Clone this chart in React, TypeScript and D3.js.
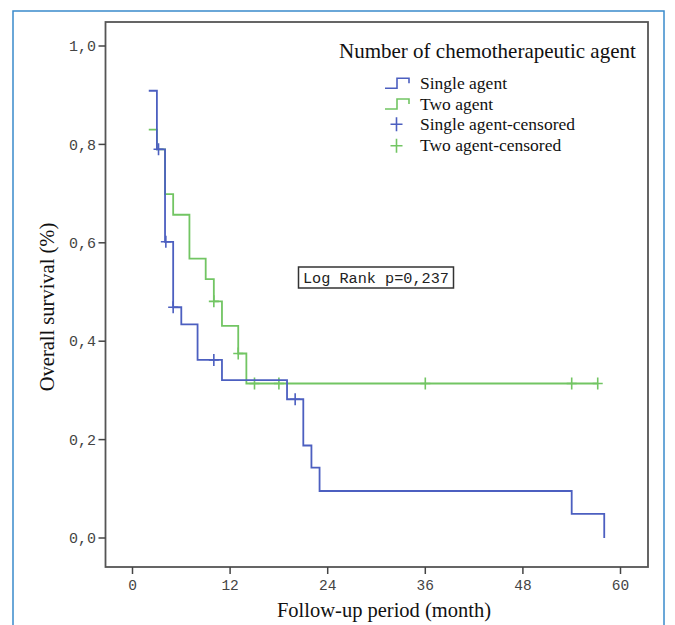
import React, { useEffect, useRef } from "react";
import * as d3 from "d3";

// Kaplan-Meier steps (month, survival)
const singleTimes = [2, 3, 4, 5, 6, 8, 11, 19, 21, 22, 23, 54, 58];
const singleSurv = [0.909, 0.79, 0.602, 0.469, 0.434, 0.362, 0.321, 0.282, 0.188, 0.143, 0.0955, 0.049, 0.0];
const singleCensT = [3.2, 4.1, 5, 10, 20];
const singleCensS = [0.79, 0.602, 0.469, 0.362, 0.282];

const twoTimes = [2, 3, 4, 5, 7, 9, 10, 11, 13, 14, 57.2];
const twoSurv = [0.83, 0.79, 0.699, 0.657, 0.568, 0.526, 0.481, 0.431, 0.375, 0.314, 0.314];
const twoCensT = [10, 13, 15, 18, 36, 54, 57.2];
const twoCensS = [0.481, 0.375, 0.314, 0.314, 0.314, 0.314, 0.314];

const xTicks = [0, 12, 24, 36, 48, 60];
const yTicks = [0, 0.2, 0.4, 0.6, 0.8, 1.0];

const legendTitle = "Number of chemotherapeutic agent";
const legendItems = ["Single agent", "Two agent", "Single agent-censored", "Two agent-censored"];

const BLUE = "#4c5fc0";
const GREEN = "#72c563";
const serif = "'Liberation Serif', 'Times New Roman', serif";
const mono = "'Liberation Mono', 'Courier New', monospace";

export default function App() {
  const ref = useRef<SVGSVGElement>(null);

  useEffect(() => {
    const svg = d3.select(ref.current);
    svg.selectAll("*").remove();

    const frame = { left: 105.5, top: 22, right: 648, bottom: 567 };
    const x = d3.scaleLinear().domain([0, 60]).range([132.5, 620.5]);
    const y = d3.scaleLinear().domain([0, 1]).range([538, 46]);

    // outer blue border
    svg.append("rect")
      .attr("x", 13).attr("y", 11).attr("width", 651).attr("height", 700)
      .attr("fill", "none").attr("stroke", "#3a8bcb").attr("stroke-width", 1.5);

    // plot frame
    svg.append("rect")
      .attr("x", frame.left).attr("y", frame.top)
      .attr("width", frame.right - frame.left).attr("height", frame.bottom - frame.top)
      .attr("fill", "white").attr("stroke", "#555").attr("stroke-width", 1.8);

    // y ticks
    const yg = svg.append("g");
    yg.selectAll("line").data(yTicks).join("line")
      .attr("x1", frame.left - 7).attr("x2", frame.left)
      .attr("y1", (d) => y(d)).attr("y2", (d) => y(d))
      .attr("stroke", "#444").attr("stroke-width", 1.5);
    yg.selectAll("text").data(yTicks).join("text")
      .attr("x", 96).attr("y", (d) => y(d)).attr("dy", "0.35em")
      .attr("text-anchor", "end")
      .style("font-family", mono).style("font-size", "15px").attr("fill", "#444")
      .text((d) => d3.format(".1f")(d).replace(".", ","));

    // x ticks
    const xg = svg.append("g");
    xg.selectAll("line").data(xTicks).join("line")
      .attr("x1", (d) => x(d)).attr("x2", (d) => x(d))
      .attr("y1", frame.bottom).attr("y2", frame.bottom + 7)
      .attr("stroke", "#444").attr("stroke-width", 1.5);
    xg.selectAll("text").data(xTicks).join("text")
      .attr("x", (d) => x(d)).attr("y", 590)
      .attr("text-anchor", "middle")
      .style("font-family", mono).style("font-size", "14.5px").attr("fill", "#444")
      .text((d) => d);

    // axis titles
    svg.append("text")
      .attr("x", 384).attr("y", 617).attr("text-anchor", "middle")
      .style("font-family", serif).style("font-size", "20.5px").attr("fill", "#111")
      .text("Follow-up period (month)");
    svg.append("text")
      .attr("transform", "translate(54,307) rotate(-90)")
      .attr("text-anchor", "middle")
      .style("font-family", serif).style("font-size", "20.5px").attr("fill", "#111")
      .text("Overall survival (%)");

    // survival curves
    const line = d3.line<[number, number]>()
      .x((d) => x(d[0])).y((d) => y(d[1]))
      .curve(d3.curveStepAfter);

    const series = [
      { t: singleTimes, s: singleSurv, ct: singleCensT, cs: singleCensS, color: BLUE },
      { t: twoTimes, s: twoSurv, ct: twoCensT, cs: twoCensS, color: GREEN },
    ];

    // draw green first so blue sits on top where they overlap
    [series[1], series[0]].forEach((ser) => {
      const pts = ser.t.map((t, i) => [t, ser.s[i]] as [number, number]);
      svg.append("path")
        .attr("d", line(pts))
        .attr("fill", "none").attr("stroke", ser.color).attr("stroke-width", 1.8);
      const cens = ser.ct.map((t, i) => [t, ser.cs[i]]);
      svg.append("g").selectAll("path").data(cens).join("path")
        .attr("d", (d) => `M${x(d[0]) - 5},${y(d[1])}H${x(d[0]) + 5}M${x(d[0])},${y(d[1]) - 6}V${y(d[1]) + 6}`)
        .attr("stroke", ser.color).attr("stroke-width", 1.6).attr("fill", "none");
    });

    // log rank box
    svg.append("rect")
      .attr("x", 298.5).attr("y", 267).attr("width", 155).attr("height", 21)
      .attr("fill", "white").attr("stroke", "#333").attr("stroke-width", 1.5);
    svg.append("text")
      .attr("x", 303).attr("y", 282.5)
      .attr("textLength", 146).attr("lengthAdjust", "spacingAndGlyphs")
      .style("font-family", mono).style("font-size", "14.5px").attr("fill", "#222")
      .text("Log Rank p=0,237");

    // legend
    svg.append("text")
      .attr("x", 339).attr("y", 58)
      .style("font-family", serif).style("font-size", "21px").attr("fill", "#111")
      .text(legendTitle);

    const rowY = [83.3, 104, 124.3, 145.7];
    const colors = [BLUE, GREEN, BLUE, GREEN];
    legendItems.forEach((label, i) => {
      const cy = rowY[i];
      if (i < 2) {
        svg.append("path")
          .attr("d", `M385,${cy + 5}H397V${cy - 5}H409V${cy}`)
          .attr("fill", "none").attr("stroke", colors[i]).attr("stroke-width", 1.6);
      } else {
        svg.append("path")
          .attr("d", `M390.5,${cy}H402.5M396.5,${cy - 7}V${cy + 7}`)
          .attr("fill", "none").attr("stroke", colors[i]).attr("stroke-width", 1.6);
      }
      svg.append("text")
        .attr("x", 420).attr("y", cy + 5.5)
        .style("font-family", serif).style("font-size", "17.5px").attr("fill", "#111")
        .text(label);
    });
  }, []);

  return (
    <svg
      ref={ref}
      width={675}
      height={625}
      style={{ position: "absolute", left: 0, top: 0, background: "white" }}
    />
  );
}
